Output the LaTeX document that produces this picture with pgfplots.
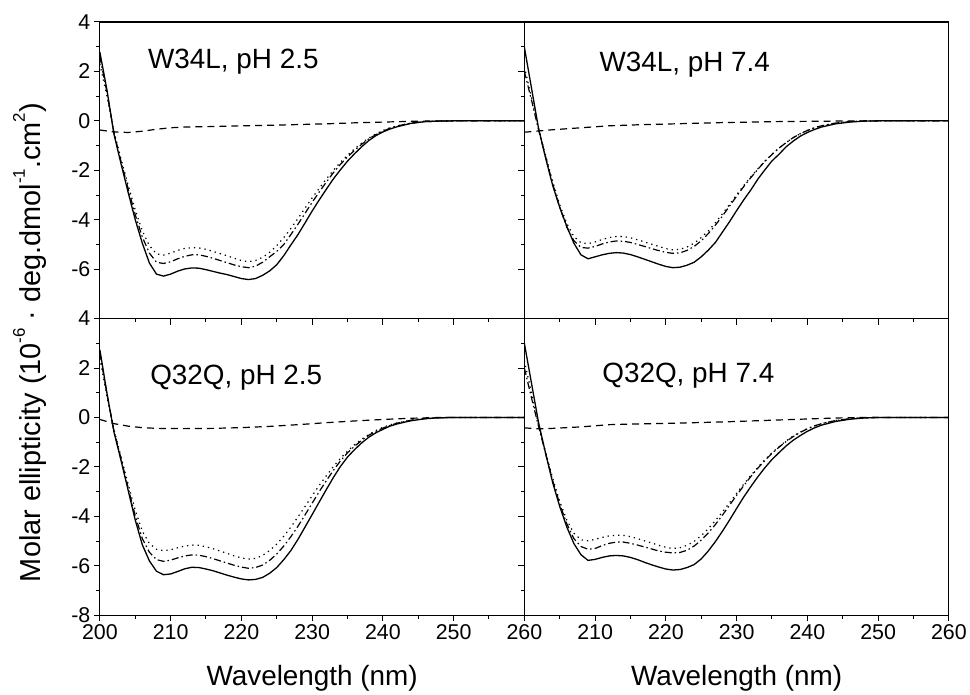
\documentclass[border=0pt]{standalone}
\usepackage{fontspec}
\setmainfont{Liberation Sans}
\usepackage{pgfplots}
\usepackage{pgfplotstable}
\pgfplotsset{compat=1.18}
\usepgfplotslibrary{groupplots}
\usetikzlibrary{calc}

% columns: x solid dashdot dotted
\pgfplotstableread{
x s dd dt
200 2.78 2.6 2.3
201 1.25 1.15 1.0
202 -0.55 -0.5 -0.45
203 -1.75 -1.65 -1.55
204 -2.9 -2.75 -2.6
205 -4.0 -3.8 -3.6
206 -4.95 -4.7 -4.45
207 -5.75 -5.35 -5.05
208 -6.2 -5.72 -5.38
209 -6.28 -5.77 -5.43
210 -6.2 -5.7 -5.35
211 -6.08 -5.58 -5.24
212 -5.99 -5.48 -5.16
213 -5.95 -5.42 -5.13
214 -5.96 -5.42 -5.14
215 -6.02 -5.48 -5.2
216 -6.09 -5.56 -5.28
217 -6.16 -5.65 -5.37
218 -6.22 -5.74 -5.46
219 -6.3 -5.83 -5.56
220 -6.38 -5.9 -5.65
221 -6.42 -5.94 -5.7
222 -6.38 -5.88 -5.65
223 -6.25 -5.72 -5.52
224 -6.07 -5.5 -5.32
225 -5.82 -5.28 -5.05
226 -5.45 -5.0 -4.72
227 -5.02 -4.6 -4.35
228 -4.6 -4.18 -3.95
229 -4.13 -3.74 -3.53
230 -3.65 -3.3 -3.12
231 -3.2 -2.88 -2.73
232 -2.77 -2.48 -2.36
233 -2.35 -2.1 -2.0
234 -1.98 -1.76 -1.68
235 -1.63 -1.46 -1.39
236 -1.33 -1.19 -1.13
237 -1.05 -0.95 -0.9
238 -0.8 -0.73 -0.7
239 -0.6 -0.56 -0.53
240 -0.45 -0.42 -0.39
241 -0.33 -0.3 -0.28
242 -0.24 -0.21 -0.2
244 -0.1 -0.09 -0.09
246 -0.03 -0.03 -0.03
248 -0.01 -0.01 -0.01
250 0 0 0
260 0 0 0
}\TLdata

\pgfplotstableread{
x s dd dt
200 2.98 2.0 2.2
201 1.34 0.85 0.95
202 -0.3 -0.35 -0.3
203 -1.5 -1.45 -1.4
204 -2.61 -2.55 -2.45
205 -3.5 -3.5 -3.4
206 -4.27 -4.3 -4.15
207 -4.95 -4.85 -4.68
208 -5.42 -5.12 -4.93
209 -5.58 -5.15 -4.97
210 -5.5 -5.08 -4.9
211 -5.42 -4.98 -4.8
212 -5.36 -4.9 -4.72
213 -5.33 -4.86 -4.68
214 -5.35 -4.87 -4.68
215 -5.41 -4.92 -4.73
216 -5.5 -5.0 -4.81
217 -5.6 -5.08 -4.9
218 -5.7 -5.17 -4.99
219 -5.8 -5.25 -5.08
220 -5.89 -5.32 -5.17
221 -5.94 -5.36 -5.22
222 -5.92 -5.34 -5.2
223 -5.84 -5.24 -5.1
224 -5.72 -5.08 -4.95
225 -5.5 -4.85 -4.72
226 -5.23 -4.56 -4.45
227 -4.92 -4.22 -4.12
228 -4.5 -3.85 -3.76
229 -4.08 -3.45 -3.38
230 -3.63 -3.05 -2.99
231 -3.2 -2.66 -2.62
232 -2.8 -2.3 -2.27
233 -2.36 -1.96 -1.94
234 -1.98 -1.64 -1.63
235 -1.62 -1.36 -1.35
236 -1.35 -1.1 -1.1
237 -1.05 -0.88 -0.88
238 -0.82 -0.68 -0.68
239 -0.62 -0.52 -0.52
240 -0.47 -0.39 -0.39
241 -0.35 -0.28 -0.28
242 -0.25 -0.2 -0.2
244 -0.12 -0.09 -0.09
246 -0.05 -0.03 -0.03
248 -0.01 -0.01 -0.01
250 0 0 0
260 0 0 0
}\TRdata

\pgfplotstableread{
x s dd dt
200 2.74 2.6 2.4
201 0.98 0.95 0.85
202 -0.6 -0.55 -0.5
203 -1.75 -1.68 -1.6
204 -2.95 -2.85 -2.7
205 -4.15 -3.98 -3.75
206 -5.15 -4.9 -4.6
207 -5.8 -5.45 -5.1
208 -6.22 -5.75 -5.33
209 -6.36 -5.82 -5.39
210 -6.33 -5.77 -5.35
211 -6.23 -5.68 -5.27
212 -6.12 -5.6 -5.2
213 -6.06 -5.56 -5.16
214 -6.07 -5.57 -5.17
215 -6.13 -5.63 -5.23
216 -6.2 -5.71 -5.31
217 -6.29 -5.8 -5.4
218 -6.38 -5.89 -5.5
219 -6.46 -5.98 -5.6
220 -6.53 -6.05 -5.68
221 -6.57 -6.1 -5.73
222 -6.55 -6.07 -5.7
223 -6.47 -5.97 -5.58
224 -6.3 -5.78 -5.38
225 -6.07 -5.52 -5.12
226 -5.75 -5.2 -4.8
227 -5.38 -4.82 -4.43
228 -4.93 -4.4 -4.02
229 -4.43 -3.94 -3.6
230 -3.93 -3.47 -3.17
231 -3.42 -3.0 -2.75
232 -2.92 -2.56 -2.36
233 -2.43 -2.14 -1.99
234 -1.98 -1.76 -1.66
235 -1.6 -1.43 -1.36
236 -1.3 -1.16 -1.1
237 -1.03 -0.93 -0.88
238 -0.8 -0.72 -0.69
239 -0.62 -0.56 -0.53
240 -0.48 -0.43 -0.4
241 -0.35 -0.32 -0.3
242 -0.26 -0.23 -0.22
244 -0.13 -0.11 -0.1
246 -0.05 -0.04 -0.04
248 -0.01 -0.01 -0.01
250 0 0 0
260 0 0 0
}\BLdata

\pgfplotstableread{
x s dd dt
200 3.0 2.0 2.3
201 1.4 0.8 1.0
202 -0.2 -0.35 -0.3
203 -1.45 -1.45 -1.4
204 -2.63 -2.55 -2.45
205 -3.6 -3.5 -3.4
206 -4.43 -4.3 -4.15
207 -5.1 -4.9 -4.68
208 -5.55 -5.22 -4.95
209 -5.78 -5.33 -4.99
210 -5.74 -5.3 -4.93
211 -5.66 -5.18 -4.85
212 -5.6 -5.09 -4.79
213 -5.58 -5.04 -4.76
214 -5.6 -5.04 -4.77
215 -5.66 -5.09 -4.82
216 -5.75 -5.16 -4.9
217 -5.86 -5.24 -4.99
218 -5.96 -5.32 -5.08
219 -6.05 -5.4 -5.17
220 -6.13 -5.45 -5.25
221 -6.17 -5.48 -5.3
222 -6.15 -5.46 -5.27
223 -6.07 -5.37 -5.17
224 -5.95 -5.2 -5.01
225 -5.72 -4.96 -4.78
226 -5.4 -4.67 -4.5
227 -5.02 -4.33 -4.17
228 -4.6 -3.95 -3.82
229 -4.15 -3.55 -3.45
230 -3.68 -3.15 -3.07
231 -3.22 -2.76 -2.7
232 -2.8 -2.39 -2.35
233 -2.4 -2.05 -2.02
234 -2.03 -1.74 -1.71
235 -1.7 -1.45 -1.43
236 -1.42 -1.2 -1.18
237 -1.15 -0.97 -0.95
238 -0.92 -0.77 -0.75
239 -0.73 -0.6 -0.59
240 -0.56 -0.46 -0.45
241 -0.42 -0.34 -0.34
242 -0.31 -0.25 -0.25
244 -0.16 -0.12 -0.12
246 -0.07 -0.05 -0.05
248 -0.02 -0.01 -0.01
250 0 0 0
260 0 0 0
}\BRdata

\pgfplotstableread{
x y
200 -0.37
202 -0.45
204 -0.47
206 -0.42
208 -0.34
210 -0.28
212 -0.25
216 -0.23
220 -0.2
224 -0.18
228 -0.15
232 -0.12
236 -0.08
240 -0.05
244 -0.02
248 0
260 0
}\TLdash

\pgfplotstableread{
x y
200 -0.46
204 -0.36
208 -0.28
212 -0.2
216 -0.16
220 -0.13
224 -0.1
228 -0.07
232 -0.05
236 -0.03
240 -0.02
244 -0.01
248 0
260 0
}\TRdash

\pgfplotstableread{
x y
200 -0.08
202 -0.25
204 -0.35
206 -0.41
208 -0.44
212 -0.45
216 -0.44
220 -0.41
224 -0.36
228 -0.29
232 -0.21
236 -0.14
240 -0.08
244 -0.03
248 0
260 0
}\BLdash

\pgfplotstableread{
x y
200 -0.42
202 -0.46
204 -0.44
208 -0.38
212 -0.29
216 -0.26
220 -0.24
224 -0.21
228 -0.18
232 -0.14
236 -0.1
240 -0.06
244 -0.02
248 0
260 0
}\BRdash

\begin{document}
\begin{tikzpicture}
\pgfplotsset{
  cdstyle/.style={
    scale only axis, width=425bp, height=297bp,
    xmin=200, xmax=260, ymin=-8, ymax=4,
    minor x tick num=1, minor y tick num=1,
    tick align=outside, tick pos=left,
    major tick length=6bp, minor tick length=3.5bp,
    axis line style={line width=1.1bp},
    every tick/.style={black, line width=1.0bp},
    /pgf/number format/assume math mode=true,
    tick label style={font=\fontsize{21.5}{21.5}\selectfont},
    clip=true,
  },
  solidc/.style={black, line width=1.3bp},
  ddc/.style={black, line width=1.2bp, dash pattern=on 7bp off 3bp on 1.5bp off 3bp},
  dtc/.style={black, line width=1.2bp, dash pattern=on 1.3bp off 4bp},
  dashc/.style={black, line width=1.2bp, dash pattern=on 7bp off 5bp},
}
\begin{groupplot}[group style={group name=G, group size=2 by 2, horizontal sep=0pt, vertical sep=0pt}, cdstyle]
% top-left
\nextgroupplot[xtick={200,210,...,260}, xticklabels={}, ytick={-6,-4,...,4}]
\addplot[solidc] table[x=x,y=s]{\TLdata};
\addplot[ddc] table[x=x,y=dd]{\TLdata};
\addplot[dtc] table[x=x,y=dt]{\TLdata};
\addplot[dashc] table[x=x,y=y]{\TLdash};
\node[anchor=base west, font=\fontsize{28}{28}\selectfont, inner sep=0pt] at (axis cs:206.8,2.1) {W34L, pH 2.5};
% top-right
\nextgroupplot[xtick={200,210,...,260}, xticklabels={}, ytick={-6,-4,...,4}, yticklabels={}]
\addplot[solidc] table[x=x,y=s]{\TRdata};
\addplot[ddc] table[x=x,y=dd]{\TRdata};
\addplot[dtc] table[x=x,y=dt]{\TRdata};
\addplot[dashc] table[x=x,y=y]{\TRdash};
\node[anchor=base west, font=\fontsize{28}{28}\selectfont, inner sep=0pt] at (axis cs:210.6,1.98) {W34L, pH 7.4};
% bottom-left
\nextgroupplot[xtick={200,210,...,260}, ytick={-8,-6,...,4},
  xlabel={Wavelength (nm)},
  xlabel style={font=\fontsize{28}{28}\selectfont, at={(axis description cs:0.5,0)}, anchor=base, yshift=-70bp}]
\addplot[solidc] table[x=x,y=s]{\BLdata};
\addplot[ddc] table[x=x,y=dd]{\BLdata};
\addplot[dtc] table[x=x,y=dt]{\BLdata};
\addplot[dashc] table[x=x,y=y]{\BLdash};
\node[anchor=base west, font=\fontsize{28}{28}\selectfont, inner sep=0pt] at (axis cs:207.1,1.33) {Q32Q, pH 2.5};
% bottom-right
\nextgroupplot[xtick={200,210,...,260}, xticklabels={,210,220,230,240,250,260}, ytick={-8,-6,...,4}, yticklabels={},
  xlabel={Wavelength (nm)},
  xlabel style={font=\fontsize{28}{28}\selectfont, at={(axis description cs:0.5,0)}, anchor=base, yshift=-70bp}]
\addplot[solidc] table[x=x,y=s]{\BRdata};
\addplot[ddc] table[x=x,y=dd]{\BRdata};
\addplot[dtc] table[x=x,y=dt]{\BRdata};
\addplot[dashc] table[x=x,y=y]{\BRdash};
\node[anchor=base west, font=\fontsize{28}{28}\selectfont, inner sep=0pt] at (axis cs:211,1.41) {Q32Q, pH 7.4};
\end{groupplot}
\node[rotate=90, font=\fontsize{29}{29}\selectfont, inner sep=0pt] at ($(G c1r1.south west)+(-70bp,-24bp)$)
  {Molar ellipticity (10\raisebox{0.55em}{\fontsize{17}{17}\selectfont -6} · deg.dmol\raisebox{0.55em}{\fontsize{17}{17}\selectfont -1}.cm\raisebox{0.55em}{\fontsize{17}{17}\selectfont 2})};
\path ($(G c1r2.south west)+(-100bp,-78bp)$) rectangle ($(G c2r1.north east)+(20bp,22bp)$);
\end{tikzpicture}
\end{document}
